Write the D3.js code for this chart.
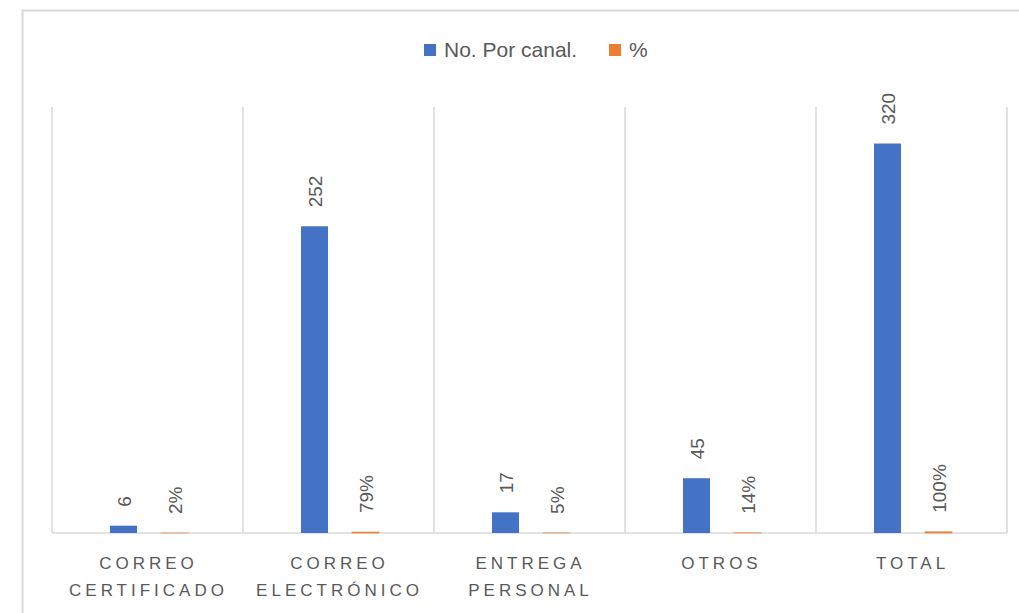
<!DOCTYPE html>
<html><head><meta charset="utf-8">
<script src="https://cdn.jsdelivr.net/npm/d3@7"></script>
<style>body{margin:0;background:#fff;}svg{display:block;font-family:"Liberation Sans",Arial,sans-serif;}</style>
</head><body>
<svg id="c" width="1019" height="613"></svg>
<script>
const categories = [["CORREO","CERTIFICADO"],["CORREO","ELECTRÓNICO"],["ENTREGA","PERSONAL"],["OTROS"],["TOTAL"]];
const counts = [6, 252, 17, 45, 320];
const pcts = [0.02, 0.79, 0.05, 0.14, 1.00];
const series = ["No. Por canal.", "%"];
const colors = ["#4472C4", "#ED7D31"];

const svg = d3.select("#c");
const M = {left:52, right:1007, top:107, bottom:533};
const txt = "#595959";

svg.append("rect").attr("x",22.5).attr("y",10.5).attr("width",1030).attr("height",640)
  .attr("fill","#fff").attr("stroke","#d9d9d9").attr("stroke-width",2);

const keys = categories.map((c,i)=>i);
const x0 = d3.scaleBand().domain(keys).range([M.left, M.right]).padding(0);
const x1 = d3.scaleBand().domain(series).range([58, 136]).paddingInner(24/51).paddingOuter(0);
const y = d3.scaleLinear().domain([0, 350]).range([M.bottom, M.top]);

// gridlines at category boundaries
const bounds = keys.map(k=>x0(k)).concat([M.right]);
svg.append("g").selectAll("line").data(bounds).join("line")
  .attr("x1",d=>d).attr("x2",d=>d).attr("y1",M.top).attr("y2",M.bottom)
  .attr("stroke","#d9d9d9").attr("stroke-width",1.5);
svg.append("line").attr("x1",M.left).attr("x2",M.right).attr("y1",M.bottom).attr("y2",M.bottom)
  .attr("stroke","#d9d9d9").attr("stroke-width",1.5);

const data = keys.map(i=>({i, vals:[{s:series[0],v:counts[i],lab:String(counts[i])},{s:series[1],v:pcts[i],lab:Math.round(pcts[i]*100)+"%"}]}));

const g = svg.append("g").selectAll("g").data(data).join("g").attr("transform",d=>`translate(${x0(d.i)},0)`);
g.selectAll("rect").data(d=>d.vals).join("rect")
  .attr("x",d=>x1(d.s)).attr("width",x1.bandwidth())
  .attr("y",d=>y(d.v)).attr("height",d=>y(0)-y(d.v))
  .attr("fill",(d,j)=>colors[j])
  .attr("stroke",(d,j)=>j===1?colors[j]:"none").attr("stroke-width",1).attr("stroke-opacity",0.6);
g.selectAll("text").data(d=>d.vals).join("text")
  .attr("transform",d=>`translate(${x1(d.s)+x1.bandwidth()/2+1},${y(d.v)-19}) rotate(-90)`)
  .attr("dy","0.35em").attr("text-anchor","start")
  .attr("fill",txt).attr("font-size",19).text(d=>d.lab);

// category labels
const cl = svg.append("g").selectAll("text").data(keys).join("text")
  .attr("text-anchor","middle").attr("fill",txt).attr("font-size",17)
  .attr("letter-spacing","4px");
cl.each(function(k){
  const t = d3.select(this);
  categories[k].forEach((line,li)=>{
    t.append("tspan").attr("x",x0(k)+x0.bandwidth()/2+1).attr("y",569+li*27).text(line);
  });
});

// legend
const lg = svg.append("g");
const lx = [424, 609];
series.forEach((s,j)=>{
  lg.append("rect").attr("x",lx[j]).attr("y",44).attr("width",12).attr("height",12).attr("fill",colors[j]);
  lg.append("text").attr("x",lx[j]+20).attr("y",57).attr("fill",txt).attr("font-size",21).text(s);
});
</script>
</body></html>
